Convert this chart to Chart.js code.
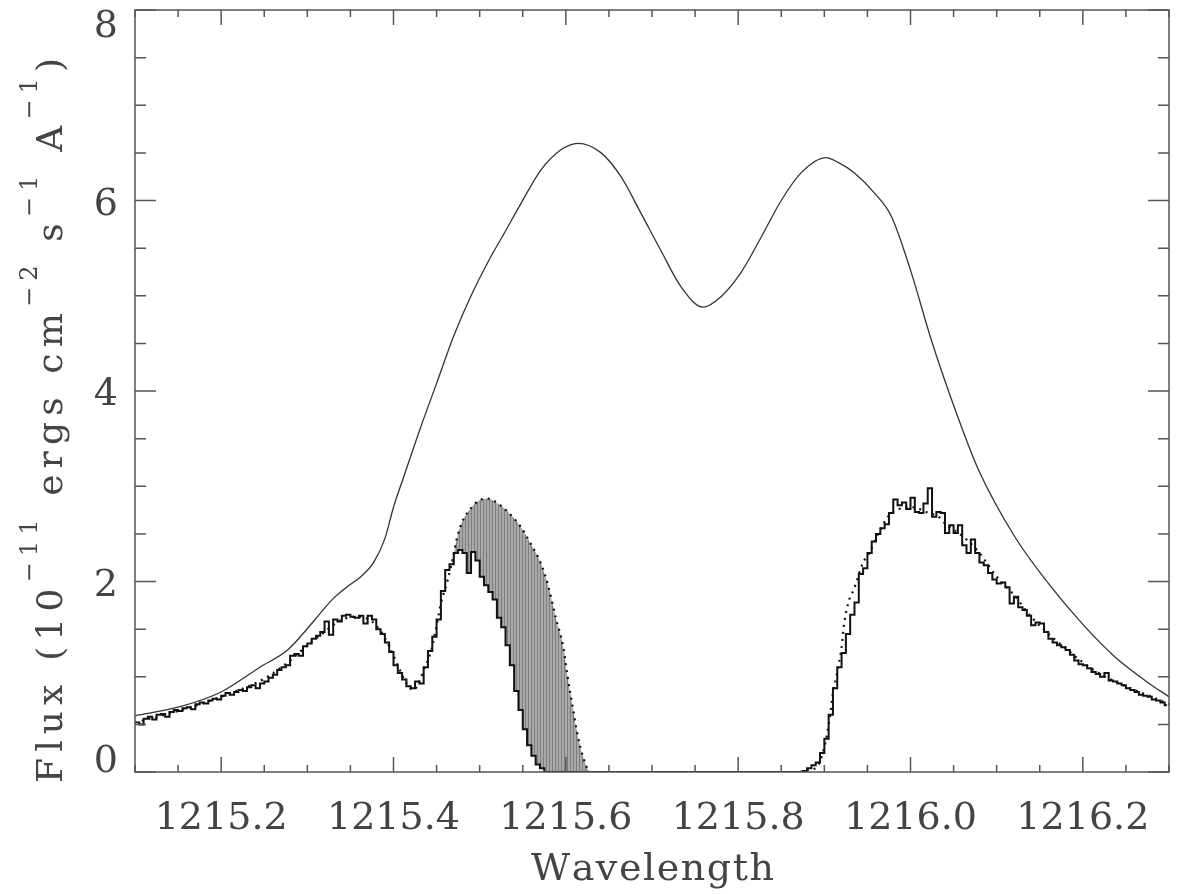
<!DOCTYPE html>
<html>
<head>
<meta charset="utf-8">
<script src="https://cdn.jsdelivr.net/npm/chart.js@4.4.0/dist/chart.umd.min.js"></script>
<style>
  html, body { margin: 0; padding: 0; background: #fff; overflow: hidden; }
  canvas { display: block; }
</style>
</head>
<body>
<canvas id="lya" width="1182" height="894"></canvas>
<script>
// observed spectrum, 0.005 A bins from 1215.100
const binStart = 1215.1;
const binWidth = 0.005;
const obsFlux = [
  0.52, 0.50, 0.56, 0.58, 0.55, 0.60, 0.61, 0.58, 0.63, 0.65,
  0.64, 0.67, 0.68, 0.66, 0.71, 0.73, 0.72, 0.75, 0.77, 0.76,
  0.80, 0.83, 0.81, 0.84, 0.86, 0.85, 0.89, 0.91, 0.88, 0.93,
  0.95, 0.99, 1.02, 1.07, 1.10, 1.12, 1.22, 1.24, 1.22, 1.32,
  1.35, 1.40, 1.43, 1.47, 1.58, 1.44, 1.60, 1.58, 1.64, 1.65,
  1.63, 1.62, 1.64, 1.56, 1.64, 1.60, 1.50, 1.45, 1.36, 1.26,
  1.12, 1.04, 0.97, 0.90, 0.88, 0.95, 0.93, 1.10, 1.27, 1.42,
  1.60, 1.90, 2.12, 2.18, 2.30, 2.33, 2.30, 2.09, 2.31, 2.22,
  2.05, 1.96, 1.89, 1.81, 1.62, 1.52, 1.33, 1.12, 0.85, 0.65,
  0.45, 0.28, 0.17, 0.08, 0.04,
  0, 0, 0, 0, 0, 0, 0, 0, 0, 0,
  0, 0, 0, 0, 0, 0, 0, 0, 0, 0,
  0, 0, 0, 0, 0, 0, 0, 0, 0, 0,
  0, 0, 0, 0, 0, 0, 0, 0, 0, 0,
  0, 0, 0, 0, 0, 0, 0, 0, 0, 0,
  0, 0, 0, 0, 0, 0, 0, 0, 0, 0,
  0.01, 0.04, 0.07, 0.10, 0.20, 0.35, 0.60, 0.88, 1.10, 1.25,
  1.45, 1.65, 1.78, 2.08, 2.14, 2.30, 2.42, 2.50, 2.56, 2.60,
  2.72, 2.86, 2.80, 2.83, 2.76, 2.88, 2.73, 2.72, 2.82, 2.98,
  2.68, 2.73, 2.72, 2.51, 2.59, 2.51, 2.59, 2.38, 2.30, 2.44,
  2.30, 2.20, 2.17, 2.09, 2.02, 1.98, 1.99, 1.94, 1.77, 1.84,
  1.73, 1.70, 1.64, 1.54, 1.57, 1.56, 1.47, 1.40, 1.36, 1.33,
  1.31, 1.28, 1.23, 1.17, 1.13, 1.12, 1.09, 1.05, 1.03, 1.00,
  1.04, 0.96, 0.95, 0.93, 0.91, 0.88, 0.86, 0.84, 0.81, 0.80,
  0.79, 0.76, 0.75, 0.73, 0.70
];

// absorbed model (dotted)
const modelWave = [
  1215.10, 1215.15, 1215.20, 1215.25, 1215.28, 1215.30, 1215.32, 1215.34, 1215.36, 1215.375,
  1215.385, 1215.395, 1215.405, 1215.415, 1215.423, 1215.43, 1215.435, 1215.443, 1215.449, 1215.455,
  1215.463, 1215.469, 1215.474, 1215.481, 1215.49, 1215.499, 1215.509, 1215.524, 1215.536, 1215.548,
  1215.559, 1215.571, 1215.58, 1215.588, 1215.597, 1215.602, 1215.608, 1215.614, 1215.62, 1215.626,
  1215.63, 1215.70, 1215.80, 1215.87, 1215.881, 1215.891, 1215.90, 1215.906, 1215.91, 1215.914,
  1215.92, 1215.923, 1215.929, 1215.934, 1215.945, 1215.951, 1215.963, 1215.974, 1215.984, 1216.001,
  1216.021, 1216.034, 1216.04, 1216.06, 1216.08, 1216.10, 1216.12, 1216.14, 1216.16, 1216.18,
  1216.20, 1216.22, 1216.24, 1216.26, 1216.28, 1216.30
];
const modelFlux = [
  0.52, 0.64, 0.79, 0.98, 1.17, 1.33, 1.47, 1.60, 1.63, 1.58,
  1.48, 1.32, 1.12, 0.93, 0.86, 0.95, 1.07, 1.25, 1.49, 1.77,
  2.02, 2.25, 2.47, 2.65, 2.77, 2.85, 2.87, 2.80, 2.70, 2.57,
  2.40, 2.19, 1.94, 1.63, 1.31, 1.00, 0.68, 0.37, 0.16, 0.02,
  0, 0, 0, 0, 0.02, 0.05, 0.26, 0.55, 0.83, 1.00,
  1.31, 1.56, 1.81, 1.91, 2.20, 2.28, 2.51, 2.68, 2.75, 2.78,
  2.72, 2.67, 2.61, 2.48, 2.30, 2.05, 1.86, 1.63, 1.45, 1.30,
  1.15, 1.03, 0.94, 0.86, 0.79, 0.71
];
// part of the model shaded against the data
const shadeFrom = 1215.455;
const shadeTo = 1215.63;

// intrinsic profile (solid)
const profWave = [
  1215.10, 1215.15, 1215.20, 1215.245, 1215.277, 1215.307, 1215.33, 1215.347, 1215.362, 1215.377,
  1215.39, 1215.40, 1215.41, 1215.43, 1215.45, 1215.47, 1215.49, 1215.51, 1215.53, 1215.548,
  1215.571, 1215.594, 1215.614, 1215.641, 1215.664, 1215.687, 1215.71, 1215.734, 1215.759, 1215.78,
  1215.803, 1215.827, 1215.85, 1215.873, 1215.902, 1215.916, 1215.935, 1215.958, 1215.978, 1216.001,
  1216.024, 1216.05, 1216.079, 1216.121, 1216.16, 1216.199, 1216.237, 1216.277, 1216.30
];
const profFlux = [
  0.59, 0.68, 0.84, 1.10, 1.28, 1.58, 1.82, 1.95, 2.05, 2.20,
  2.45, 2.78, 3.05, 3.58, 4.08, 4.58, 5.00, 5.36, 5.68, 5.97,
  6.32, 6.53, 6.60, 6.50, 6.25, 5.87, 5.48, 5.09, 4.88, 4.99,
  5.24, 5.62, 6.00, 6.29, 6.45, 6.40, 6.29, 6.08, 5.83, 5.24,
  4.54, 3.85, 3.17, 2.47, 1.98, 1.56, 1.21, 0.93, 0.79
];

const xMin = 1215.1, xMax = 1216.3, xMajor = 0.2, xMinor = 0.05;
const yMin = 0, yMax = 8, yMajor = 2, yMinor = 0.5;
const xTitle = 'Wavelength';
const yTitleParts = [
  ['Flux (10', false], ['\u221211', true], [' ergs cm', false], ['\u22122', true],
  [' s', false], ['\u22121', true], [' A', false], ['\u22121', true], [')', false]
];

const ink = '#444';
const fontFamily = '"DejaVu Serif", "Liberation Serif", serif';

const pairs = (w, f) => w.map((v, i) => ({ x: v, y: f[i] }));
const obsPts = obsFlux.map((f, i) => ({ x: binStart + (i + 0.5) * binWidth, y: f }));
const modelPts = pairs(modelWave, modelFlux);
const shadePts = modelPts.filter(p => p.x >= shadeFrom && p.x <= shadeTo);
const profPts = pairs(profWave, profFlux);

function stripes() {
  const c = document.createElement('canvas');
  c.width = 3; c.height = 4;
  const g = c.getContext('2d');
  g.fillStyle = '#a9a9a9'; g.fillRect(0, 0, 3, 4);
  g.fillStyle = '#7d7d7d'; g.fillRect(0, 0, 1, 4);
  return g.createPattern(c, 'repeat');
}

function stepTicks(min, max, step) {
  const out = [];
  const n = Math.round((max - min) / step);
  for (let i = 0; i <= n; i++) out.push({ value: +(min + i * step).toFixed(6) });
  return out;
}
const isMajor = (v, s) => Math.abs(v / s - Math.round(v / s)) < 1e-6;

// draw text one glyph at a time, stretched to a given length
function spacedText(ctx, parts, start, length, mainFont, supFont, raise) {
  let raw = 0, count = 0;
  parts.forEach(([t, sup]) => {
    ctx.font = sup ? supFont : mainFont;
    for (const ch of t) { raw += ctx.measureText(ch).width; count++; }
  });
  const gap = (length - raw) / (count - 1);
  let u = start;
  parts.forEach(([t, sup]) => {
    ctx.font = sup ? supFont : mainFont;
    for (const ch of t) {
      ctx.fillText(ch, u, sup ? -raise : 0);
      u += ctx.measureText(ch).width + gap;
    }
  });
}

const frame = {
  id: 'frame',
  afterDatasetsDraw(chart) {
    const { ctx, chartArea: a, scales: { x, y } } = chart;
    ctx.save();
    ctx.strokeStyle = '#555';
    ctx.lineWidth = 1.5;
    ctx.strokeRect(a.left, a.top, a.right - a.left, a.bottom - a.top);
    ctx.beginPath();
    x.ticks.forEach(t => {
      const px = x.getPixelForValue(t.value);
      const len = isMajor(t.value, xMajor) ? 15 : 7;
      ctx.moveTo(px, a.bottom); ctx.lineTo(px, a.bottom - len);
      ctx.moveTo(px, a.top); ctx.lineTo(px, a.top + len);
    });
    y.ticks.forEach(t => {
      const py = y.getPixelForValue(t.value);
      const len = isMajor(t.value, yMajor) ? 21 : 11;
      ctx.moveTo(a.left, py); ctx.lineTo(a.left + len, py);
      ctx.moveTo(a.right, py); ctx.lineTo(a.right - len, py);
    });
    ctx.stroke();

    // y tick labels, kept inside the frame height
    ctx.fillStyle = ink;
    ctx.font = '38px ' + fontFamily;
    ctx.textAlign = 'right';
    ctx.textBaseline = 'alphabetic';
    y.ticks.filter(t => isMajor(t.value, yMajor)).forEach(t => {
      const py = y.getPixelForValue(t.value);
      const base = Math.min(Math.max(py + 14, a.top + 27), a.bottom);
      ctx.fillText(String(t.value), a.left - 17, base);
    });

    // axis titles
    ctx.textAlign = 'left';
    const cx = (a.left + a.right) / 2;
    ctx.save();
    ctx.translate(0, 880);
    spacedText(ctx, [[xTitle, false]], cx - 121, 243, '38px ' + fontFamily, '', 0);
    ctx.restore();

    ctx.save();
    ctx.translate(62, 0);
    ctx.rotate(-Math.PI / 2);
    spacedText(ctx, yTitleParts, -783, 725, '36px ' + fontFamily, '24px ' + fontFamily, 25);
    ctx.restore();
    ctx.restore();
  }
};

new Chart(document.getElementById('lya'), {
  type: 'line',
  data: {
    datasets: [
      {
        label: 'observed',
        data: obsPts,
        stepped: 'middle',
        borderColor: '#111',
        borderWidth: 2,
        pointRadius: 0,
        fill: false
      },
      {
        label: 'model',
        data: modelPts,
        borderColor: '#111',
        borderWidth: 2.2,
        borderDash: [2, 5],
        cubicInterpolationMode: 'monotone',
        pointRadius: 0,
        fill: false
      },
      {
        label: 'intrinsic',
        data: profPts,
        borderColor: '#333',
        borderWidth: 1.3,
        cubicInterpolationMode: 'monotone',
        pointRadius: 0,
        fill: false
      },
      {
        label: 'absorbed',
        data: shadePts,
        borderWidth: 0,
        borderColor: 'rgba(0,0,0,0)',
        cubicInterpolationMode: 'monotone',
        pointRadius: 0,
        fill: { target: 0, above: stripes(), below: 'rgba(0,0,0,0)' }
      }
    ]
  },
  options: {
    responsive: false,
    animation: false,
    layout: { padding: { left: 0, right: 13, top: 10, bottom: 0 } },
    plugins: { legend: { display: false }, tooltip: { enabled: false } },
    scales: {
      x: {
        type: 'linear',
        min: xMin, max: xMax,
        afterBuildTicks: s => { s.ticks = stepTicks(xMin, xMax, xMinor); },
        afterFit: s => { s.height = 122; },
        grid: { display: false },
        border: { display: false },
        ticks: {
          autoSkip: false,
          maxRotation: 0,
          padding: 12,
          color: ink,
          font: { family: fontFamily, size: 38, lineHeight: 1.42 },
          callback: v => isMajor(v, xMajor) && v > xMin + 1e-6 && v < xMax - 1e-6 ? v.toFixed(1) : ''
        }
      },
      y: {
        type: 'linear',
        min: yMin, max: yMax,
        afterBuildTicks: s => { s.ticks = stepTicks(yMin, yMax, yMinor); },
        afterFit: s => { s.width = 135; },
        grid: { display: false },
        border: { display: false },
        ticks: { display: false }
      }
    }
  },
  plugins: [frame]
});
</script>
</body>
</html>
